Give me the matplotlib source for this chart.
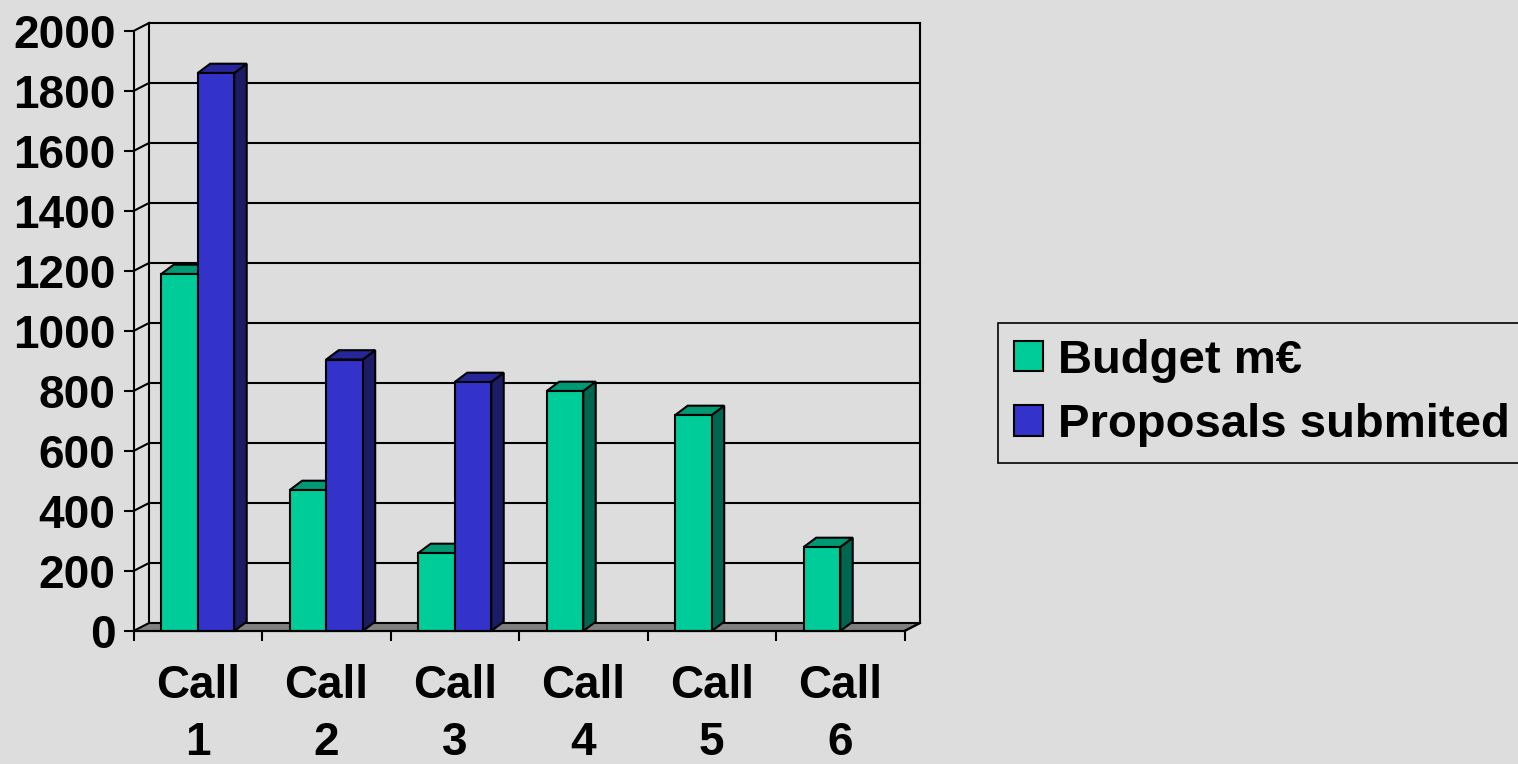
import matplotlib.pyplot as plt
from matplotlib.patches import Polygon, Patch

calls = ['Call\n1', 'Call\n2', 'Call\n3', 'Call\n4', 'Call\n5', 'Call\n6']
budget = [1190, 470, 260, 800, 720, 280]
proposals = [1860, 905, 830, 0, 0, 0]
yticks = [0, 200, 400, 600, 800, 1000, 1200, 1400, 1600, 1800, 2000]

bg = '#dddddd'
green = ('#00cc99', '#009973', '#006650')   # front, top, side
blue = ('#3333cc', '#26269a', '#1c1c66')

plt.rcParams['font.family'] = ['Liberation Sans', 'DejaVu Sans']
plt.rcParams['font.weight'] = 'bold'

fig = plt.figure(figsize=(15.18, 7.64), dpi=100, facecolor=bg)
ax = fig.add_axes([133.5 / 1518, 133 / 764, 771 / 1518, 600 / 764])
ax.set_facecolor('none')
ax.set_xlim(0, 6)
ax.set_ylim(0, 2000)

# depth of the walls and of the bars, in data units
wdx, wdy = 0.121, 26.7
bdx, bdy = 0.097, 31
lw = 1.5

# floor
ax.add_patch(Polygon([(0, 0), (6, 0), (6 + wdx, wdy), (wdx, wdy)], closed=True,
                     facecolor='#808080', edgecolor='black', lw=lw, clip_on=False, zorder=1))
# back wall gridlines + left wall slants
for v in yticks[1:]:
    ax.plot([wdx, 6 + wdx], [v + wdy, v + wdy], color='black', lw=lw, clip_on=False, zorder=1)
    ax.plot([0, wdx], [v, v + wdy], color='black', lw=lw, clip_on=False, zorder=1)
ax.plot([wdx, wdx], [wdy, 2000 + wdy], color='black', lw=lw, clip_on=False, zorder=1)
ax.plot([6 + wdx, 6 + wdx], [wdy, 2000 + wdy], color='black', lw=lw, clip_on=False, zorder=1)
ax.plot([6, 6 + wdx], [0, wdy], color='black', lw=lw, clip_on=False, zorder=1)

w = 0.284


def bar3d(x0, h, cols, z):
    if h <= 0:
        return
    x1 = x0 + w
    ax.add_patch(Polygon([(x1, 0), (x1 + bdx, bdy), (x1 + bdx, h + bdy), (x1, h)],
                         facecolor=cols[2], edgecolor='black', lw=lw, clip_on=False, zorder=z))
    ax.add_patch(Polygon([(x0, h), (x1, h), (x1 + bdx, h + bdy), (x0 + bdx, h + bdy)],
                         facecolor=cols[1], edgecolor='black', lw=lw, clip_on=False, zorder=z))
    ax.bar(x0, h, width=w, align='edge', color=cols[0], edgecolor='black', lw=lw,
           zorder=z, clip_on=False)


for i in range(len(calls)):
    c = i + 0.5
    bar3d(c - w, budget[i], green, 3 + i * 2)
    bar3d(c, proposals[i], blue, 4 + i * 2)

for s in ['top', 'right']:
    ax.spines[s].set_visible(False)
for s in ['left', 'bottom']:
    ax.spines[s].set_linewidth(lw)
    ax.spines[s].set_zorder(20)

ax.set_yticks(yticks)
ax.set_yticklabels([str(v) for v in yticks], fontsize=33, fontweight='bold')
ax.tick_params(axis='y', length=7, width=lw, pad=6)
ax.set_xticks(range(7))
ax.set_xticklabels([])
ax.set_xticks([i + 0.5 for i in range(6)], minor=True)
ax.set_xticklabels(calls, minor=True, fontsize=33, fontweight='bold', linespacing=1.38)
ax.tick_params(axis='x', which='minor', length=0, pad=24)
ax.tick_params(axis='x', which='major', length=7, width=lw)

handles = [Patch(facecolor=green[0], edgecolor='black', lw=lw, label='Budget m€'),
           Patch(facecolor=blue[0], edgecolor='black', lw=lw, label='Proposals submited')]
leg = fig.legend(handles=handles, loc='center left',
                 bbox_to_anchor=(998 / 1518, 1 - 393 / 764, 0.4, 0), mode='expand',
                 prop={'size': 34, 'weight': 'bold'}, frameon=True, fancybox=False,
                 facecolor=bg, edgecolor='black', framealpha=1, handlelength=0.62,
                 handleheight=0.62, handletextpad=0.33, borderpad=0.33, labelspacing=0.44,
                 borderaxespad=0)
leg.get_frame().set_linewidth(1.2)

fig.savefig('out.png', dpi=100, facecolor=bg)
